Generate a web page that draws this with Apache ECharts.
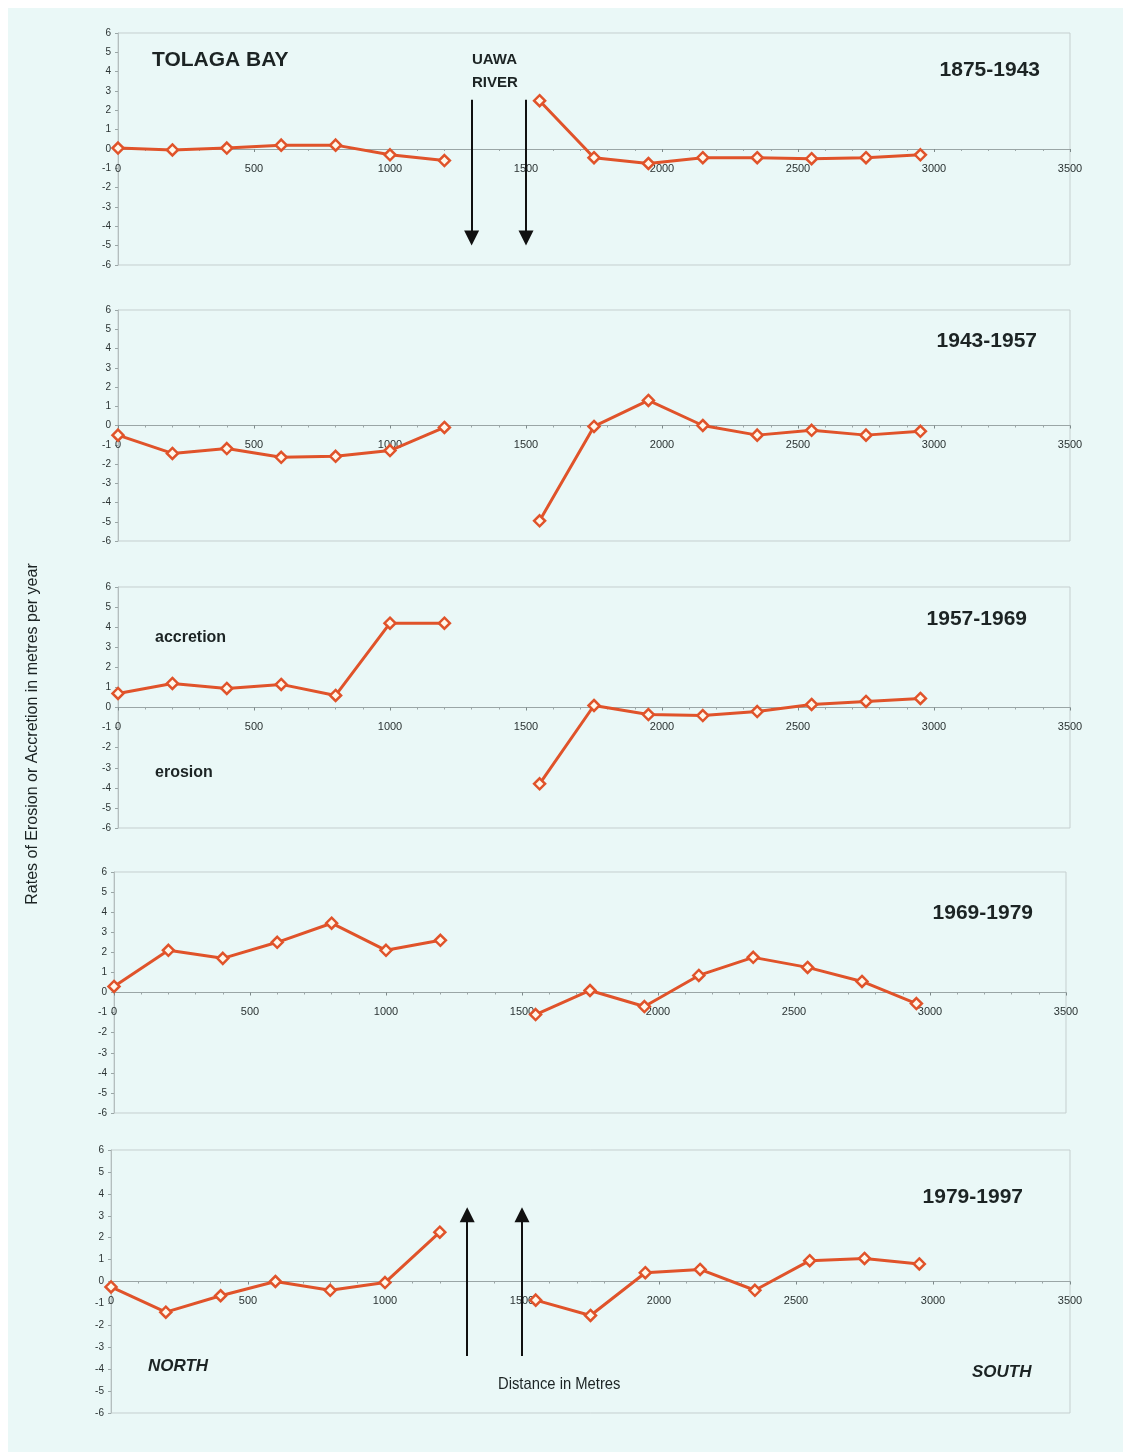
<!DOCTYPE html>
<html>
<head>
<meta charset="utf-8">
<script src="https://cdn.jsdelivr.net/npm/echarts@6/dist/echarts.min.js"></script>
<style>
  html, body { margin: 0; padding: 0; background: #ffffff; }
  #chart { position: absolute; left: 8px; top: 8px; width: 1115px; height: 1444px; background: #eaf8f7; }
</style>
</head>
<body>
<div id="chart"></div>
<script>
// Distance along the beach (m): profiles north and south of the Uawa River mouth
const northDist = [0, 200, 400, 600, 800, 1000, 1200];
const southDist = [1550, 1750, 1950, 2150, 2350, 2550, 2750, 2950];

// Survey periods
const periods = ['1875-1943', '1943-1957', '1957-1969', '1969-1979', '1979-1997'];

// Rates of erosion (-) or accretion (+), metres per year
const north1875 = [0.05, -0.05, 0.05, 0.2, 0.2, -0.3, -0.6];
const south1875 = [2.5, -0.45, -0.75, -0.45, -0.45, -0.5, -0.45, -0.3];

const north1943 = [-0.5, -1.45, -1.2, -1.65, -1.6, -1.3, -0.1];
const south1943 = [-4.95, -0.05, 1.3, 0.0, -0.5, -0.25, -0.5, -0.3];

const north1957 = [0.7, 1.2, 0.95, 1.15, 0.6, 4.2, 4.2];
const south1957 = [-3.8, 0.1, -0.35, -0.4, -0.2, 0.15, 0.3, 0.45];

const north1969 = [0.3, 2.1, 1.7, 2.5, 3.45, 2.1, 2.6];
const south1969 = [-1.1, 0.1, -0.7, 0.85, 1.75, 1.25, 0.55, -0.55];

const north1979 = [-0.25, -1.4, -0.65, 0.0, -0.4, -0.05, 2.25];
const south1979 = [-0.85, -1.55, 0.4, 0.55, -0.4, 0.95, 1.05, 0.8];

// Axis ticks
const xTicks = [0, 500, 1000, 1500, 2000, 2500, 3000, 3500];
const yTicks = [-6, -5, -4, -3, -2, -1, 0, 1, 2, 3, 4, 5, 6];

// River channel edges marked with arrows
const riverEdges = [1300, 1500];

const northRates = [north1875, north1943, north1957, north1969, north1979];
const southRates = [south1875, south1943, south1957, south1969, south1979];

const LINE = '#e0532a';
const SANS = '"Liberation Sans", Arial, sans-serif';

// panel plot boxes (container pixels)
const boxes = [
  { left: 110, top: 25,   width: 952, height: 232 },
  { left: 110, top: 302,  width: 952, height: 231 },
  { left: 110, top: 579,  width: 952, height: 241 },
  { left: 106, top: 864,  width: 952, height: 241 },
  { left: 103, top: 1142, width: 959, height: 263 }
];

const grids = [], xAxes = [], yAxes = [], series = [];

boxes.forEach((b, i) => {
  grids.push({
    left: b.left, top: b.top, width: b.width, height: b.height,
    show: true, borderColor: '#c5cfcf', borderWidth: 1, backgroundColor: 'transparent'
  });
  // x axis sits on the zero line, half way down the symmetric -6..6 range
  xAxes.push({
    type: 'value', gridIndex: i, position: 'bottom', offset: -b.height / 2,
    min: xTicks[0], max: xTicks[xTicks.length - 1], interval: xTicks[1] - xTicks[0],
    axisLine: { show: true, onZero: false, lineStyle: { color: '#9aa6a6', width: 1 } },
    axisTick: { show: true, length: 3, lineStyle: { color: '#7d8a8a' } },
    minorTick: { show: true, splitNumber: 5, length: 2, lineStyle: { color: '#9aa6a6' } },
    splitLine: { show: false },
    axisLabel: { color: '#2b3333', fontSize: 11, fontFamily: SANS, margin: 14,
                 formatter: v => String(v) }
  });
  yAxes.push({
    type: 'value', gridIndex: i,
    min: yTicks[0], max: yTicks[yTicks.length - 1], interval: yTicks[1] - yTicks[0],
    axisLine: { show: true, onZero: false, lineStyle: { color: '#b4bebe', width: 1 } },
    axisTick: { show: true, length: 3, lineStyle: { color: '#9aa6a6' } },
    splitLine: { show: false },
    axisLabel: { color: '#2b3333', fontSize: 10, fontFamily: SANS, margin: 7 }
  });

  const common = {
    type: 'line', xAxisIndex: i, yAxisIndex: i,
    symbol: 'diamond', symbolSize: 11, showSymbol: true,
    lineStyle: { color: LINE, width: 3 },
    itemStyle: { color: '#fff7ea', borderColor: LINE, borderWidth: 2.5 },
    animation: false, silent: true, z: 3
  };
  series.push(Object.assign({}, common, {
    name: periods[i] + ' north',
    data: northDist.map((d, k) => [d, northRates[i][k]])
  }));
  series.push(Object.assign({}, common, {
    name: periods[i] + ' south',
    data: southDist.map((d, k) => [d, southRates[i][k]])
  }));
});

// River arrows: pointing down in the first panel, up in the last
function arrows(fromY, toY) {
  return {
    silent: true, animation: false,
    symbol: ['none', 'triangle'], symbolSize: 15,
    lineStyle: { color: '#111111', width: 2, type: 'solid' },
    label: { show: false },
    data: riverEdges.map(x => [{ coord: [x, fromY] }, { coord: [x, toY] }])
  };
}
series[1].markLine = arrows(2.55, -4.6);
series[9].markLine = arrows(-3.4, 3.05);

// annotation text (container pixels)
function txt(text, x, y, font, align, extra) {
  return Object.assign({
    type: 'text', x: x, y: y, silent: true, z: 10,
    style: { text: text, font: font, fill: '#1c2424', align: align || 'left', verticalAlign: 'middle' }
  }, extra || {});
}
const periodPos = [[1032, 62], [1029, 333], [1019, 611], [1025, 905], [1015, 1189]];
const graphics = [
  txt('TOLAGA BAY', 144, 52, 'bold 21px ' + SANS),
  txt('UAWA', 464, 52, 'bold 15px ' + SANS),
  txt('RIVER', 464, 75, 'bold 15px ' + SANS),
  txt('accretion', 147, 630, 'bold 16px ' + SANS),
  txt('erosion', 147, 765, 'bold 16px ' + SANS),
  txt('NORTH', 140, 1358, 'italic bold 17px ' + SANS),
  txt('SOUTH', 964, 1364, 'italic bold 17px ' + SANS),
  txt('Distance in Metres', 490, 1376, '17px ' + SANS, 'left', { scaleX: 0.87 }),
  txt('Rates of Erosion or Accretion in metres per year', 25, 726, '16px ' + SANS, 'center', { rotation: Math.PI / 2 })
];
periods.forEach((p, i) => {
  graphics.push(txt(p, periodPos[i][0], periodPos[i][1], 'bold 21px ' + SANS, 'right'));
});

const chart = echarts.init(document.getElementById('chart'), null, { renderer: 'canvas' });
chart.setOption({
  backgroundColor: '#eaf8f7',
  animation: false,
  grid: grids,
  xAxis: xAxes,
  yAxis: yAxes,
  series: series,
  graphic: graphics
});
</script>
</body>
</html>
